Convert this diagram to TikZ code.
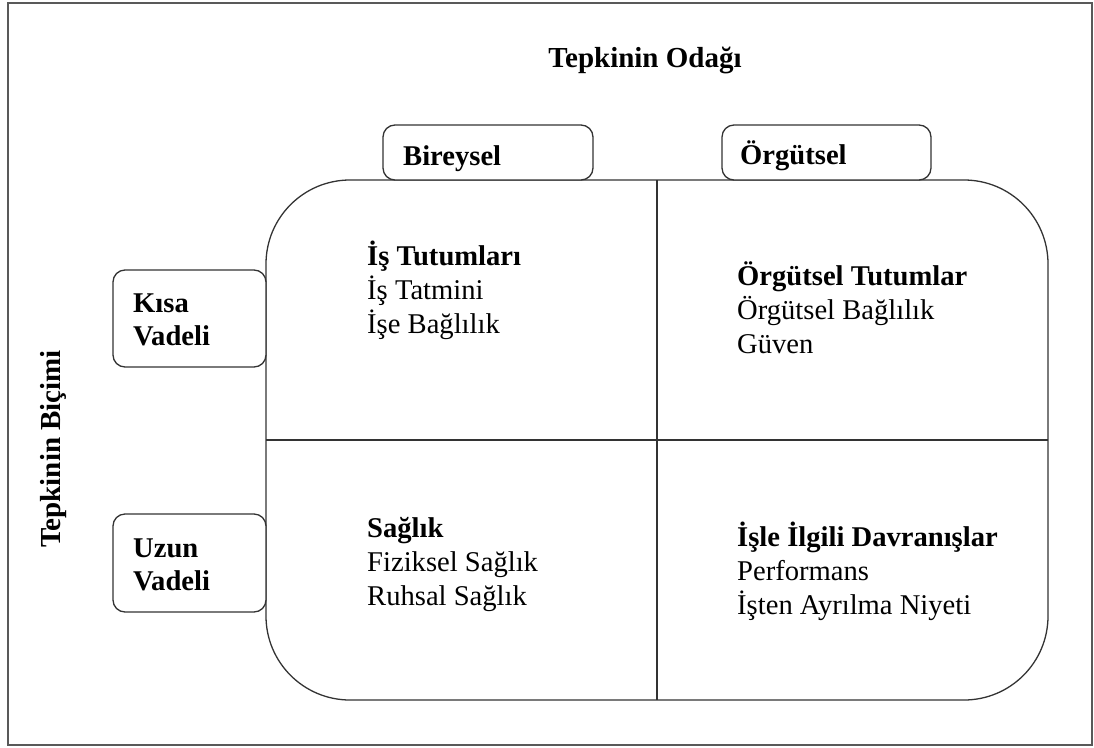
\documentclass[tikz,border=0pt]{standalone}
\usepackage{fontspec}
\setmainfont{Liberation Serif}
\begin{document}
\begin{tikzpicture}[x=1pt,y=-1pt,
  frame/.style={draw=black!65,line width=2},
  grid/.style={draw=black!80,line width=1.3},
  tab/.style={draw=black!80,line width=1.3,rounded corners=12,fill=white,inner sep=0},
  lbl/.style={font=\fontsize{28.6}{33}\selectfont\bfseries,inner sep=0,anchor=base west,align=left},
  cell/.style={font=\fontsize{28.6}{34}\selectfont,inner sep=0,anchor=base west,align=left}]
\useasboundingbox (0,0) rectangle (1094,747);
% outer frame
\draw[frame] (8,3) rectangle (1092,745);
% quadrant block
\draw[grid,rounded corners=84] (266,180) rectangle (1048,700);
\coordinate (vtop) at (657,180);
\coordinate (vbot) at (657,700);
\coordinate (hl) at (266,440);
\coordinate (hr) at (1048,440);
\draw[grid] (vtop) -- (vbot);
\draw[grid] (hl) -- (hr);
% axis titles
\node[font=\fontsize{29}{33}\selectfont\bfseries,inner sep=0,anchor=base] (odak) at (645,67) {Tepkinin Odağı};
\node[font=\fontsize{29}{33}\selectfont\bfseries,inner sep=0,anchor=base,rotate=90] (bicim) at (60,449) {Tepkinin Biçimi};
% column tabs
\node[tab,minimum width=210,minimum height=55] (bireysel) at (488,152.5) {};
\node[tab,minimum width=209,minimum height=55] (orgutsel) at (826.5,152.5) {};
\node[lbl] (tbir) at (403,165) {Bireysel};
\node[lbl] (torg) at (740,164) {Örgütsel};
% row tabs (anchor is the baseline of the last line)
\node[tab,minimum width=153,minimum height=97] (kisa) at (189.5,318.5) {};
\node[tab,minimum width=153,minimum height=98] (uzun) at (189.5,563) {};
\node[lbl] (tkisa) at (133,345) {Kısa\\Vadeli};
\node[lbl] (tuzun) at (133,590) {Uzun\\Vadeli};
% quadrant contents
\node[cell] (q1) at (367,333) {\textbf{İş Tutumları}\\İş Tatmini\\İşe Bağlılık};
\node[cell] (q2) at (737,353) {\textbf{Örgütsel Tutumlar}\\Örgütsel Bağlılık\\Güven};
\node[cell] (q3) at (367,605) {\textbf{Sağlık}\\Fiziksel Sağlık\\Ruhsal Sağlık};
\node[cell] (q4) at (737,614) {\textbf{İşle İlgili Davranışlar}\\Performans\\İşten Ayrılma Niyeti};
\end{tikzpicture}
\end{document}
